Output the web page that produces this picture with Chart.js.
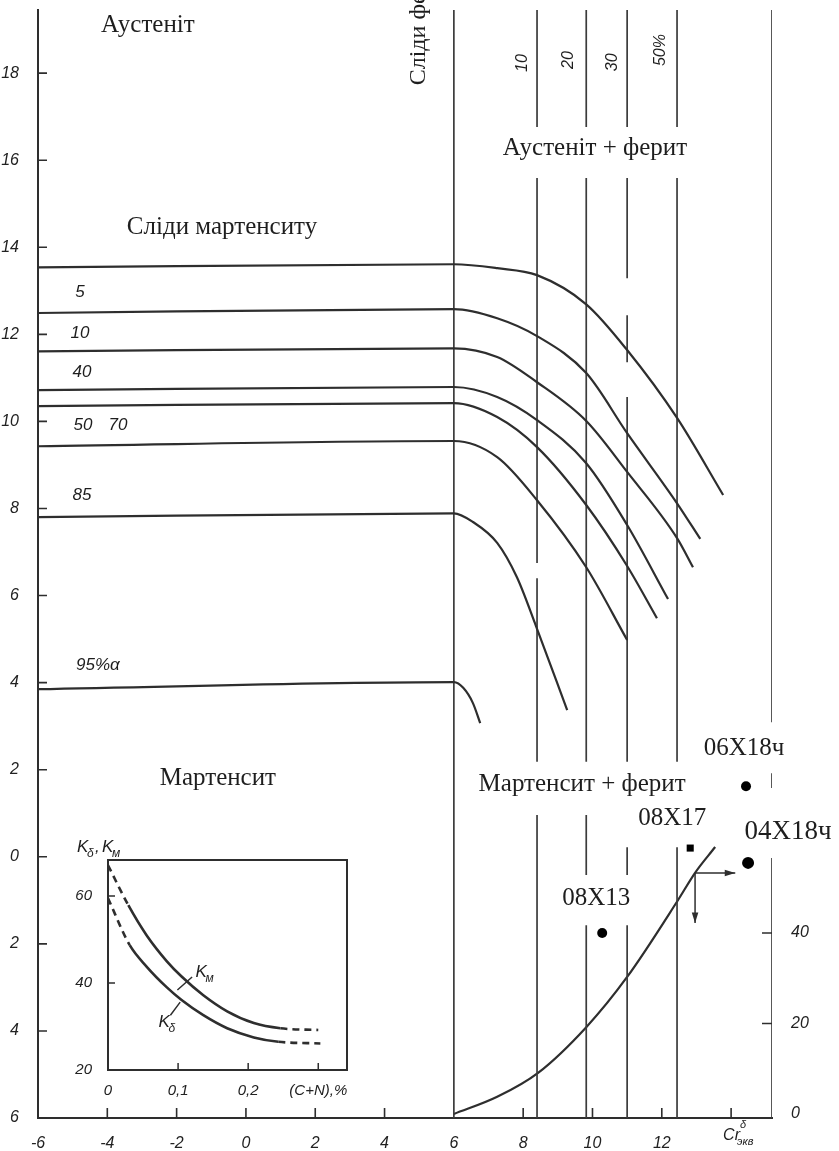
<!DOCTYPE html>
<html>
<head>
<meta charset="utf-8">
<script src="https://cdn.jsdelivr.net/npm/chart.js@4.4.1/dist/chart.umd.min.js"></script>
<style>
html, body { margin: 0; padding: 0; background: #fff; }
#wrap { position: relative; width: 839px; height: 1151px; }
#wrap canvas { position: absolute; left: 0; top: 0; }
</style>
</head>
<body>
<div id="wrap">
  <canvas id="diagram" width="839" height="1151"></canvas>
  <canvas id="inset" width="839" height="1151"></canvas>
</div>
<script>
// axis ticks
const niTicks = [-6, -4, -2, 0, 2, 4, 6, 8, 10, 12, 14, 16, 18];
const crTicks = [-6, -4, -2, 0, 2, 4, 6, 8, 10, 12, 14];
const ferriteTicks = [0, 20, 40];
const niTop = 19.45;
const crRight = 15.18;

// lines of constant martensite content (Cr_eq, Ni_eq)
const crTrace = [-6, 6.0, 7.25, 8.40, 9.82, 11.0, 12.44, 13.77];
const niTrace = [13.54, 13.61, 13.52, 13.36, 12.69, 11.64, 10.08, 8.31];
const cr5 = [-6, 6.0, 7.25, 8.40, 9.82, 11.0, 12.44, 13.11];
const ni5 = [12.49, 12.58, 12.37, 11.96, 11.11, 9.73, 8.12, 7.30];
const cr10 = [-6, 6.0, 7.25, 8.40, 9.82, 11.0, 12.44, 12.90];
const ni10 = [11.61, 11.68, 11.48, 10.90, 10.01, 8.84, 7.32, 6.65];
const cr40 = [-6, 6.0, 7.25, 8.40, 9.82, 11.0, 12.18];
const ni40 = [10.72, 10.79, 10.56, 10.03, 9.04, 7.62, 5.92];
const cr50 = [-6, 6.0, 7.25, 8.40, 9.82, 11.0, 11.86];
const ni50 = [10.35, 10.42, 10.10, 9.41, 8.08, 6.68, 5.48];
const cr70 = [-6, 6.0, 7.25, 8.40, 9.82, 11.0];
const ni70 = [9.43, 9.55, 9.18, 8.19, 6.65, 4.98];
const cr85 = [-6, 6.0, 6.55, 7.25, 7.82, 8.37, 9.27];
const ni85 = [7.80, 7.89, 7.69, 7.21, 6.42, 5.30, 3.37];
const cr95 = [-6, 6.0, 6.27, 6.55, 6.76];
const ni95 = [3.85, 4.01, 3.88, 3.53, 3.07];

// ferrite lines (vertical), drawn piece by piece [from, to] in Ni_eq
const ferriteCr = [8.40, 9.82, 11.0, 12.44];
const ferritePieces = [
  [[niTop, 16.76], [15.59, 6.75], [6.40, 2.18], [0.96, -6]],
  [[niTop, 16.76], [15.59, 2.18], [0.96, -0.42], [-1.57, -6]],
  [[niTop, 16.76], [15.59, 13.29], [12.44, 11.36], [10.56, 2.18], [0.22, -0.42], [-1.57, -6]],
  [[niTop, 16.76], [15.59, 2.18], [0.22, -6]]
];
const borderPieces = [[niTop, 3.09], [1.92, 1.58], [-0.03, -6]];

// ferrite amount vs Cr_eq (right axis, %)
const crFerrite = [6.0, 7.25, 8.43, 9.82, 11.0, 12.47, 12.96, 13.54];
const ferritePct = [0, 3.8, 9.1, 19.2, 30.3, 47.3, 53.3, 59.0];

// steels
const steelNames = ['06Х18ч', '08Х17', '04Х18ч', '08Х13'];
const steelCr = [14.43, 12.82, 14.49, 10.28];
const steelNi = [1.62, 0.20, -0.14, -1.75];

// texts
const regionNames = ['Аустеніт', 'Сліди мартенситу', 'Аустеніт + ферит', 'Мартенсит', 'Мартенсит + ферит'];
const regionCr = [-2.83, -0.69, 10.07, -0.81, 9.70];
const regionNi = [19.10, 14.46, 16.28, 1.81, 1.67];
const gradeNames = ['5', '10', '40', '50', '70', '85', '95%α'];
const gradeCr = [-4.79, -4.79, -4.73, -4.70, -3.69, -4.73, -4.27];
const gradeNi = [12.97, 12.03, 11.13, 9.92, 9.92, 8.31, 4.40];
const ferriteLabels = ['10', '20', '30', '50%'];
const ferriteLabelCr = [7.97, 9.30, 10.57, 11.95];
const ferriteLabelNi = [18.23, 18.30, 18.25, 18.53];

// inset: K coefficients vs (C+N), %
const cnTicks = [0, 0.1, 0.2, 0.3];
const kTicks = [20, 40, 60];
const cnAlpha = [0, 0.029, 0.055, 0.084, 0.105, 0.136, 0.170, 0.208, 0.246, 0.300];
const kAlpha = [67.1, 57.9, 51.0, 45.0, 41.5, 37.2, 33.5, 30.8, 29.6, 29.2];
const cnDelta = [0, 0.031, 0.055, 0.084, 0.105, 0.136, 0.170, 0.208, 0.243, 0.303];
const kDelta = [59.5, 48.7, 43.8, 39.0, 36.1, 32.6, 29.6, 27.5, 26.5, 26.1];

const ink = '#2e2e2e';
const serif = '"Liberation Serif", "DejaVu Serif", serif';
const narrow = '"Liberation Sans Narrow", "Liberation Sans", "DejaVu Sans", sans-serif';

const pts = (xs, ys) => xs.map((x, i) => ({ x: x, y: ys[i] }));
const pieces = (x, segs) => segs.flatMap((s, i) => (i ? [{ x: x, y: null }] : []).concat([{ x: x, y: s[0] }, { x: x, y: s[1] }]));

const curve = (xs, ys) => ({
  data: pts(xs, ys), borderColor: ink, borderWidth: 2.2, pointRadius: 0,
  cubicInterpolationMode: 'monotone', fill: false
});
const straight = (data, w) => ({
  data: data, borderColor: '#3c3c3c', borderWidth: w || 1.7, pointRadius: 0, tension: 0, fill: false, spanGaps: false
});

const datasets = [
  curve(crTrace, niTrace), curve(cr5, ni5), curve(cr10, ni10), curve(cr40, ni40),
  curve(cr50, ni50), curve(cr70, ni70), curve(cr85, ni85), curve(cr95, ni95),
  straight(pieces(6, [[-6, niTop]])),
  straight(pieces(crRight, borderPieces))
];
ferriteCr.forEach((c, i) => datasets.push(straight(pieces(c, ferritePieces[i]))));
datasets.push(Object.assign(curve(crFerrite, ferritePct), { yAxisID: 'y2' }));
datasets.push({
  type: 'scatter', data: pts(steelCr, steelNi), showLine: false,
  pointStyle: ['circle', 'rect', 'circle', 'circle'], pointRadius: [5, 5, 6, 5],
  backgroundColor: '#000', borderColor: '#000', borderWidth: 0
});

function arrow(ctx, x0, y0, x1, y1) {
  const a = Math.atan2(y1 - y0, x1 - x0);
  ctx.beginPath();
  ctx.moveTo(x0, y0); ctx.lineTo(x1, y1);
  ctx.stroke();
  ctx.beginPath();
  ctx.moveTo(x1, y1);
  ctx.lineTo(x1 - 11 * Math.cos(a - 0.3), y1 - 11 * Math.sin(a - 0.3));
  ctx.lineTo(x1 - 11 * Math.cos(a + 0.3), y1 - 11 * Math.sin(a + 0.3));
  ctx.closePath();
  ctx.fill();
}

const diagramNotes = {
  id: 'diagramNotes',
  afterDatasetsDraw(chart) {
    const ctx = chart.ctx;
    const sx = chart.scales.x, sy = chart.scales.y, s2 = chart.scales.y2;
    const area = chart.chartArea;
    ctx.save();
    ctx.strokeStyle = ink; ctx.fillStyle = '#1e1e1e'; ctx.lineWidth = 1.6;

    // inward tick marks
    ctx.beginPath();
    niTicks.forEach(v => { const p = sy.getPixelForValue(v); ctx.moveTo(area.left, p); ctx.lineTo(area.left + 9, p); });
    crTicks.forEach(v => {
      if (v === -6 || v === 6) return;
      const p = sx.getPixelForValue(v); ctx.moveTo(p, area.bottom); ctx.lineTo(p, area.bottom - 10);
    });
    ferriteTicks.forEach(v => {
      if (v === 0) return;
      const p = s2.getPixelForValue(v); ctx.moveTo(area.right, p); ctx.lineTo(area.right - 10, p);
    });
    ctx.stroke();

    // region names
    ctx.font = '25px ' + serif;
    ctx.textAlign = 'center'; ctx.textBaseline = 'middle';
    regionNames.forEach((t, i) => ctx.fillText(t, sx.getPixelForValue(regionCr[i]), sy.getPixelForValue(regionNi[i])));

    // "Сліди фериту", rotated, runs off the top
    ctx.save();
    ctx.font = '24px ' + serif;
    ctx.translate(sx.getPixelForValue(5.17), sy.getPixelForValue(17.72));
    ctx.rotate(-Math.PI / 2);
    ctx.textAlign = 'left'; ctx.textBaseline = 'alphabetic';
    ctx.fillText('Сліди фериту', 0, 0);
    ctx.restore();

    // martensite % labels
    ctx.font = 'italic 17px ' + narrow;
    gradeNames.forEach((t, i) => ctx.fillText(t, sx.getPixelForValue(gradeCr[i]), sy.getPixelForValue(gradeNi[i])));

    // ferrite % labels, rotated
    ctx.font = 'italic 16px ' + narrow;
    ferriteLabels.forEach((t, i) => {
      ctx.save();
      ctx.translate(sx.getPixelForValue(ferriteLabelCr[i]), sy.getPixelForValue(ferriteLabelNi[i]));
      ctx.rotate(-Math.PI / 2);
      ctx.fillText(t, 0, 0);
      ctx.restore();
    });

    // steel names
    const offs = [[-2, -38, 25], [-18, -30, 25], [40, -31, 27], [-6, -35, 25]];
    steelNames.forEach((t, i) => {
      ctx.font = offs[i][2] + 'px ' + serif;
      ctx.fillText(t, sx.getPixelForValue(steelCr[i]) + offs[i][0], sy.getPixelForValue(steelNi[i]) + offs[i][1]);
    });

    // reading arrows from the ferrite curve
    ctx.lineWidth = 1.5; ctx.fillStyle = ink;
    const ax = sx.getPixelForValue(12.96), ay = sy.getPixelForValue(-0.37);
    arrow(ctx, ax, ay, sx.getPixelForValue(14.12), ay);
    arrow(ctx, ax, ay, ax, sy.getPixelForValue(-1.52));

    // Cr_экв label on the x axis
    ctx.fillStyle = '#1e1e1e';
    const cx = sx.getPixelForValue(14);
    ctx.textAlign = 'left'; ctx.textBaseline = 'alphabetic';
    ctx.font = 'italic 16px ' + narrow;
    ctx.fillText('Cr', cx - 8, area.bottom + 22);
    ctx.font = 'italic 11px ' + narrow;
    ctx.fillText('экв', cx + 6, area.bottom + 27);
    ctx.fillText('δ', cx + 9, area.bottom + 10);
    ctx.restore();
  }
};

const tickFont = { family: narrow, style: 'italic', size: 16 };
const noPad = s => { s.paddingTop = 0; s.paddingBottom = 0; s.paddingLeft = 0; s.paddingRight = 0; };

new Chart(document.getElementById('diagram'), {
  type: 'line',
  data: { datasets: datasets },
  options: {
    responsive: false,
    animation: false,
    devicePixelRatio: 1,
    layout: { padding: { top: 10, left: 0, right: 0, bottom: 0 } },
    plugins: { legend: { display: false }, tooltip: { enabled: false } },
    scales: {
      x: {
        type: 'linear', min: -6, max: crRight,
        afterFit: s => { s.height = 33; noPad(s); },
        afterBuildTicks: s => { s.ticks = crTicks.map(v => ({ value: v })); },
        grid: { display: false },
        border: { display: true, color: ink, width: 2 },
        ticks: { padding: 8, font: tickFont, color: '#222', autoSkip: false, maxRotation: 0,
          callback: v => (v === 14 ? '' : String(v)) }
      },
      y: {
        type: 'linear', min: -6, max: niTop,
        afterFit: s => { s.width = 38; noPad(s); },
        afterBuildTicks: s => { s.ticks = niTicks.map(v => ({ value: v })); },
        grid: { display: false },
        border: { display: true, color: ink, width: 2 },
        ticks: { padding: 11, font: tickFont, color: '#222', autoSkip: false,
          callback: v => String(Math.abs(v)) }
      },
      y2: {
        type: 'linear', position: 'right', min: -0.88, max: 243.98,
        afterFit: s => { s.width = 67; noPad(s); },
        afterBuildTicks: s => { s.ticks = ferriteTicks.map(v => ({ value: v })); },
        grid: { display: false },
        border: { display: false },
        ticks: { padding: 11, font: tickFont, color: '#222', autoSkip: false }
      }
    }
  },
  plugins: [diagramNotes]
});

// inset chart
const dashedEnds = n => ({
  borderDash: c => (c.p0DataIndex === 0 || c.p1DataIndex === n - 1) ? [7, 5] : undefined
});

const insetNotes = {
  id: 'insetNotes',
  afterDatasetsDraw(chart) {
    const ctx = chart.ctx;
    const sx = chart.scales.x, sy = chart.scales.y;
    const a = chart.chartArea;
    ctx.save();
    ctx.strokeStyle = ink; ctx.lineWidth = 2;
    ctx.strokeRect(a.left, a.top, a.right - a.left, a.bottom - a.top);
    ctx.lineWidth = 1.5;
    ctx.beginPath();
    [40, 60].forEach(v => { const p = sy.getPixelForValue(v); ctx.moveTo(a.left, p); ctx.lineTo(a.left + 7, p); });
    [0.1, 0.2, 0.3].forEach(v => { const p = sx.getPixelForValue(v); ctx.moveTo(p, a.bottom); ctx.lineTo(p, a.bottom - 7); });
    // leaders to the curve names
    ctx.moveTo(sx.getPixelForValue(0.099), sy.getPixelForValue(38.4));
    ctx.lineTo(sx.getPixelForValue(0.12), sy.getPixelForValue(41.4));
    ctx.moveTo(sx.getPixelForValue(0.089), sy.getPixelForValue(32.6));
    ctx.lineTo(sx.getPixelForValue(0.103), sy.getPixelForValue(35.6));
    ctx.stroke();

    ctx.fillStyle = '#1e1e1e';
    ctx.textBaseline = 'alphabetic'; ctx.textAlign = 'left';
    const kName = (x, y, sub) => {
      ctx.font = 'italic 17px ' + narrow;
      ctx.fillText('K', x, y);
      ctx.font = 'italic 12px ' + narrow;
      ctx.fillText(sub, x + 10, y + 5);
    };
    kName(sx.getPixelForValue(0.125), sy.getPixelForValue(41.5), 'м');
    kName(sx.getPixelForValue(0.072), sy.getPixelForValue(29.8), 'δ');
    kName(a.left - 31, a.top - 8, 'δ');
    ctx.font = 'italic 17px ' + narrow;
    ctx.fillText(',', a.left - 13, a.top - 8);
    kName(a.left - 6, a.top - 8, 'м');
    ctx.restore();
  }
};

const insetFont = { family: narrow, style: 'italic', size: 15 };

new Chart(document.getElementById('inset'), {
  type: 'line',
  data: {
    datasets: [
      { data: pts(cnAlpha, kAlpha), borderColor: ink, borderWidth: 2.6, pointRadius: 0,
        cubicInterpolationMode: 'monotone', segment: dashedEnds(cnAlpha.length) },
      { data: pts(cnDelta, kDelta), borderColor: ink, borderWidth: 2.6, pointRadius: 0,
        cubicInterpolationMode: 'monotone', segment: dashedEnds(cnDelta.length) }
    ]
  },
  options: {
    responsive: false,
    animation: false,
    devicePixelRatio: 1,
    layout: { padding: { left: 62, top: 860, right: 492, bottom: 51 } },
    plugins: { legend: { display: false }, tooltip: { enabled: false } },
    scales: {
      x: {
        type: 'linear', min: 0, max: 0.341,
        afterFit: s => { s.height = 30; noPad(s); },
        afterBuildTicks: s => { s.ticks = cnTicks.map(v => ({ value: v })); },
        grid: { display: false }, border: { display: false },
        ticks: { padding: 4, font: insetFont, color: '#222', autoSkip: false, maxRotation: 0,
          callback: v => (v === 0.3 ? '(C+N),%' : String(v).replace('.', ',')) }
      },
      y: {
        type: 'linear', min: 20, max: 68.3,
        afterFit: s => { s.width = 46; noPad(s); },
        afterBuildTicks: s => { s.ticks = kTicks.map(v => ({ value: v })); },
        grid: { display: false }, border: { display: false },
        ticks: { padding: 8, font: insetFont, color: '#222', autoSkip: false }
      }
    }
  },
  plugins: [insetNotes]
});
</script>
</body>
</html>
